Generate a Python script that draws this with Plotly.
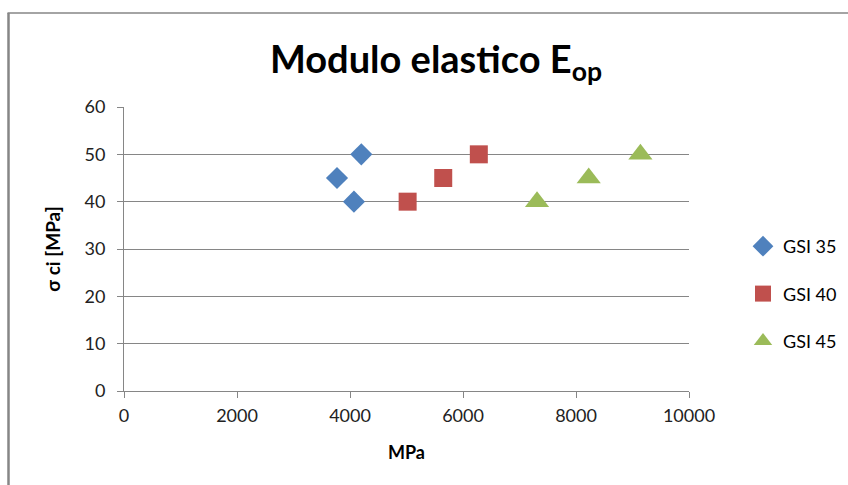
import plotly.graph_objects as go

series_names = ["GSI 35", "GSI 40", "GSI 45"]
x_gsi35 = [4070, 3770, 4200]
y_gsi35 = [40, 45, 50]
x_gsi40 = [5020, 5650, 6280]
y_gsi40 = [40, 45, 50]
x_gsi45 = [7310, 8225, 9140]
y_gsi45 = [40, 45, 50]

colors = ["#4F81BD", "#C0504D", "#9BBB59"]
symbols = ["diamond", "square", "triangle-up"]
sizes = [17, 18, 21]

FONT = "Lato"
fig = go.Figure()
for name, xs, ys, c, s, sz in zip(series_names, [x_gsi35, x_gsi40, x_gsi45],
                                  [y_gsi35, y_gsi40, y_gsi45], colors, symbols, sizes):
    fig.add_trace(go.Scatter(x=xs, y=ys, mode="markers", name=name, legendgroup=name,
                             marker=dict(color=c, symbol=s, size=sz, line=dict(width=0))))

L, R, T, B = 124, 159, 107, 94
W, H = 848, 485
pw = W - L - R
ph = H - T - B

def px2paper_x(px):
    return (px - L) / pw

def px2paper_y(py):
    return (H - B - py) / ph

fig.update_layout(
    width=W, height=H,
    margin=dict(l=L, r=R, t=T, b=B, autoexpand=False),
    paper_bgcolor="white", plot_bgcolor="white",
    font=dict(family=FONT, color="#000000"),
    title=dict(text="<b>Modulo elastico E<sub>op</sub></b>", x=436 / W, xanchor="center",
               y=1 - 60 / H, yanchor="middle", font=dict(size=38, family=FONT, color="black")),
    showlegend=True,
    legend=dict(xref="container", yref="container", x=743 / W, xanchor="left",
                y=1 - 228 / H, yanchor="top",
                font=dict(size=18, family=FONT, color="black"), tracegroupgap=21,
                bgcolor="rgba(0,0,0,0)", itemwidth=30),
    xaxis=dict(range=[0, 10000], dtick=2000, tick0=0, tickformat="d", showgrid=False, zeroline=False,
               showline=True, linecolor="#868686", linewidth=1,
               ticks="outside", ticklen=6, tickcolor="#868686",
               tickfont=dict(size=18, family=FONT, color="#222222"), ticklabelstandoff=2,
               title=dict(text="<b>MPa</b>", font=dict(size=18, family=FONT, color="black"), standoff=21)),
    yaxis=dict(range=[0, 60], dtick=10, tick0=0, showgrid=True, gridcolor="#868686", gridwidth=1,
               zeroline=False, showline=True, linecolor="#868686", linewidth=1,
               ticks="outside", ticklen=6, tickcolor="#868686",
               tickfont=dict(size=18, family=FONT, color="#222222"), ticklabelstandoff=8,
               title=dict(text="<b>σ ci [MPa]</b>", font=dict(size=19, family=FONT, color="black"), standoff=18)),
    shapes=[
        dict(type="line", xref="paper", yref="paper",
             x0=px2paper_x(8.5), x1=px2paper_x(8.5), y0=px2paper_y(13), y1=px2paper_y(500),
             line=dict(color="#868686", width=2.5)),
        dict(type="line", xref="paper", yref="paper",
             x0=px2paper_x(7.5), x1=px2paper_x(870), y0=px2paper_y(13), y1=px2paper_y(13),
             line=dict(color="#868686", width=1.5)),
    ],
)

fig.write_html("out.html")
